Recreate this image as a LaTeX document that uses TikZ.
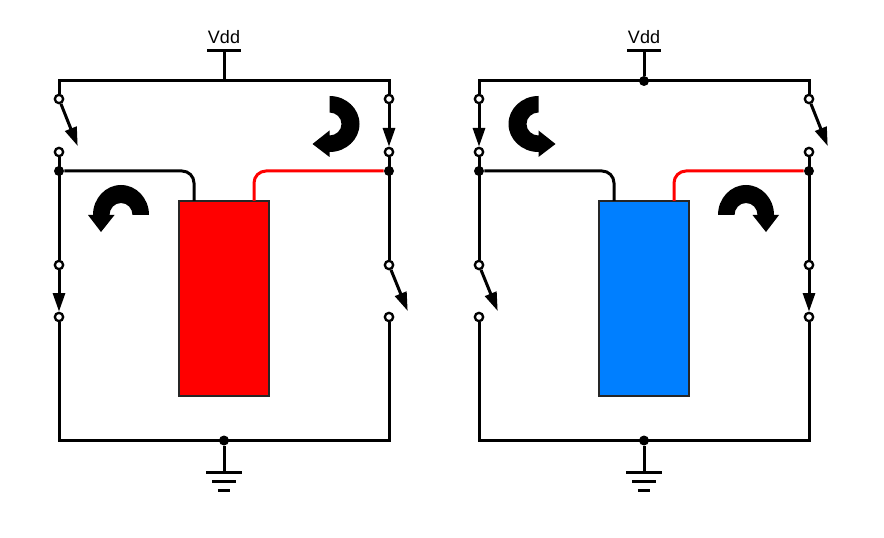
\documentclass[tikz,border=0pt]{standalone}
\usepackage{fontspec}
\setsansfont{Liberation Sans}
\usetikzlibrary{arrows.meta}
\tikzset{
  wire/.style={black,line width=2.25pt},
  redwire/.style={red,line width=2.25pt,rounded corners=9pt},
  blackwire/.style={black,line width=2.25pt,rounded corners=9pt},
  switcharm/.style={black,line width=2.25pt,-{Triangle[length=14pt,width=9pt]},shorten >=0pt},
  terminal/.style={circle,draw=black,fill=white,line width=1.75pt,inner sep=0pt,minimum size=6.25pt},
  junction/.style={circle,fill=black,inner sep=0pt,minimum size=7.5pt},
  cell/.style={draw=black!85,line width=1pt,minimum width=67.5pt,minimum height=146.25pt,inner sep=0pt},
  turn/.pic={
    \fill [black] (28,0) arc (0:-180:28 and 30) -- (-33,0) -- (-20,17) -- (-6.5,0) -- (-11.5,0) arc (-180:0:11.5 and 12) -- cycle;
  }
}
\begin{document}
\begin{tikzpicture}[x=0.75pt,y=-0.75pt]
  \useasboundingbox (0,0) rectangle (884,538);
  % left bridge
  \node [cell,fill=red] (cella) at (224,298.5) {};
  \coordinate (tla) at (59,81);
  \coordinate (tra) at (389,81);
  \coordinate (bla) at (59,440.5);
  \coordinate (bra) at (389,440.5);
  \coordinate (topa) at (224,81);
  \coordinate (leada) at (194,201);
  \coordinate (leadb) at (254,201);
  \coordinate (vdda) at (224,51);
  \coordinate (vddal) at (207,51);
  \coordinate (vddar) at (240.5,51);
  \node [font=\sffamily\fontsize{13.5pt}{13.5pt}\selectfont] (vddtexta) at (224,37) {Vdd};
  \node [terminal] (s1a) at (59,99) {};
  \node [terminal] (s1b) at (59,152) {};
  \node [terminal] (s2a) at (389,99) {};
  \node [terminal] (s2b) at (389,152) {};
  \node [terminal] (s3a) at (59,265) {};
  \node [terminal] (s3b) at (59,317) {};
  \node [terminal] (s4a) at (389,265) {};
  \node [terminal] (s4b) at (389,317) {};
  \node [junction] (ja) at (59,171) {};
  \node [junction] (jb) at (389,171) {};
  \node [junction] (gnda) at (224,440.5) {};
  \coordinate (opena) at (77.7,146);
  \coordinate (openb) at (407.7,311);
  \draw [wire,line join=miter] (s1a) -- (tla) -- (tra) -- (s2a);
  \draw [wire] (topa) -- (vdda);
  \draw [wire] (vddal) -- (vddar);
  \draw [wire] (s1b) -- (s3a);
  \draw [wire] (s2b) -- (s4a);
  \draw [wire,line join=miter] (s3b) -- (bla) -- (bra) -- (s4b);
  \draw [switcharm] (s1a) -- (opena);
  \draw [switcharm] (s2a) -- (s2b);
  \draw [switcharm] (s3a) -- (s3b);
  \draw [switcharm] (s4a) -- (openb);
  \draw [blackwire] (ja) -| (leada);
  \draw [redwire] (jb) -| (leadb);
  \coordinate (ga1) at (224,472);
  \coordinate (ga1l) at (206,472);
  \coordinate (ga1r) at (242,472);
  \coordinate (ga2l) at (212,481);
  \coordinate (ga2r) at (236,481);
  \coordinate (ga3l) at (218,490);
  \coordinate (ga3r) at (230,490);
  \draw [wire] (gnda) -- (ga1);
  \draw [wire] (ga1l) -- (ga1r);
  \draw [wire] (ga2l) -- (ga2r);
  \draw [wire] (ga3l) -- (ga3r);
  \pic at (121,215) {turn};
  \pic [rotate=-90,xscale=-1] at (329.5,124) {turn};
  % right bridge
  \node [cell,fill={rgb,255:red,0;green,127;blue,255}] (cellb) at (644,298.5) {};
  \coordinate (tlb) at (479,81);
  \coordinate (trb) at (809,81);
  \coordinate (blb) at (479,440.5);
  \coordinate (brb) at (809,440.5);
  \coordinate (leadc) at (614,201);
  \coordinate (leadd) at (674,201);
  \coordinate (vddb) at (644,51);
  \coordinate (vddbl) at (627,51);
  \coordinate (vddbr) at (660.5,51);
  \node [font=\sffamily\fontsize{13.5pt}{13.5pt}\selectfont] (vddtextb) at (644,37) {Vdd};
  \node [terminal] (s5a) at (479,99) {};
  \node [terminal] (s5b) at (479,152) {};
  \node [terminal] (s6a) at (809,99) {};
  \node [terminal] (s6b) at (809,152) {};
  \node [terminal] (s7a) at (479,265) {};
  \node [terminal] (s7b) at (479,317) {};
  \node [terminal] (s8a) at (809,265) {};
  \node [terminal] (s8b) at (809,317) {};
  \node [junction] (jc) at (479,171) {};
  \node [junction] (jd) at (809,171) {};
  \node [junction] (topb) at (644,81) {};
  \node [junction] (gndb) at (644,440.5) {};
  \coordinate (openc) at (827.7,146);
  \coordinate (opend) at (497.7,311);
  \draw [wire,line join=miter] (s5a) -- (tlb) -- (trb) -- (s6a);
  \draw [wire] (topb) -- (vddb);
  \draw [wire] (vddbl) -- (vddbr);
  \draw [wire] (s5b) -- (s7a);
  \draw [wire] (s6b) -- (s8a);
  \draw [wire,line join=miter] (s7b) -- (blb) -- (brb) -- (s8b);
  \draw [switcharm] (s5a) -- (s5b);
  \draw [switcharm] (s6a) -- (openc);
  \draw [switcharm] (s7a) -- (opend);
  \draw [switcharm] (s8a) -- (s8b);
  \draw [blackwire] (jc) -| (leadc);
  \draw [redwire] (jd) -| (leadd);
  \coordinate (gb1) at (644,472);
  \coordinate (gb1l) at (626,472);
  \coordinate (gb1r) at (662,472);
  \coordinate (gb2l) at (632,481);
  \coordinate (gb2r) at (656,481);
  \coordinate (gb3l) at (638,490);
  \coordinate (gb3r) at (650,490);
  \draw [wire] (gndb) -- (gb1);
  \draw [wire] (gb1l) -- (gb1r);
  \draw [wire] (gb2l) -- (gb2r);
  \draw [wire] (gb3l) -- (gb3r);
  \pic [rotate=90] at (538.5,124) {turn};
  \pic [xscale=-1] at (746,215) {turn};
\end{tikzpicture}
\end{document}
